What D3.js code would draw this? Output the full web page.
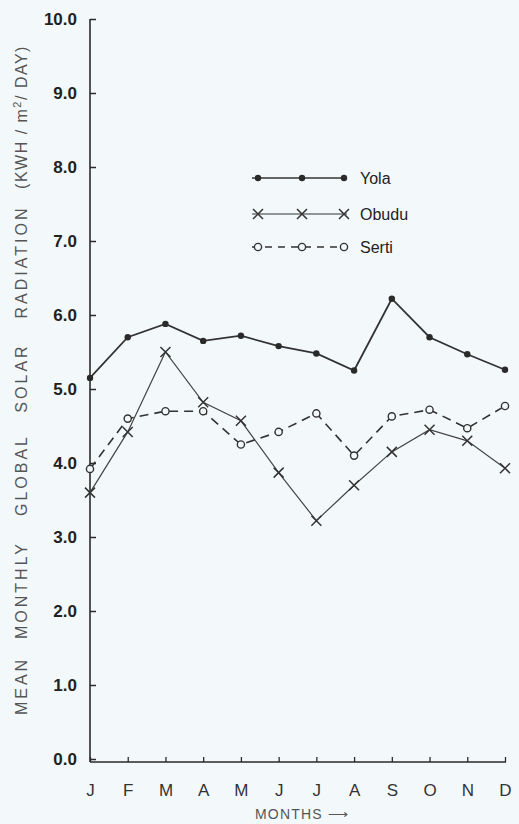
<!DOCTYPE html>
<html>
<head>
<meta charset="utf-8">
<script src="https://cdn.jsdelivr.net/npm/d3@7/dist/d3.min.js"></script>
<style>
  html, body { margin: 0; padding: 0; background: #f3f9fb; }
  svg { display: block; }
</style>
</head>
<body>
<svg id="chart" width="519" height="824"></svg>
<script>
const months = ["J","F","M","A","M","J","J","A","S","O","N","D"];
const yola  = [5.15, 5.70, 5.88, 5.65, 5.72, 5.58, 5.48, 5.25, 6.22, 5.70, 5.47, 5.26];
const obudu = [3.60, 4.42, 5.50, 4.82, 4.57, 3.87, 3.22, 3.70, 4.15, 4.45, 4.30, 3.93];
const serti = [3.92, 4.60, 4.70, 4.70, 4.25, 4.42, 4.67, 4.10, 4.63, 4.72, 4.47, 4.77];
const yTicks = [0,1,2,3,4,5,6,7,8,9,10];
const seriesNames = ["Yola","Obudu","Serti"];
const yTitleWords = ["MEAN","MONTHLY","GLOBAL","SOLAR","RADIATION","(KWH / m2/ DAY)"];

const svg = d3.select("#chart");
const ink = "#2a2a2a";

const x = d3.scaleLinear().domain([0, 11]).range([90, 505]);
const y = d3.scaleLinear().domain([0, 10]).range([759, 19]);

// axes
const yAxis = d3.axisLeft(y).tickValues(yTicks).tickSize(-6).tickFormat(d => d.toFixed(1)).tickPadding(13);
const gy = svg.append("g").attr("transform", "translate(90,0)").call(yAxis);
gy.select(".domain").attr("stroke", ink).attr("stroke-width", 1.6).attr("d", `M0,${y(10)}V${y(0)+3}`);
gy.selectAll(".tick line").attr("stroke", ink).attr("stroke-width", 1.5);
gy.selectAll(".tick text").attr("fill", "#222").attr("font-family", "Liberation Sans, Arial, sans-serif")
  .attr("font-size", 17).attr("font-weight", "bold").attr("dy", "0.35em");

const xAxis = d3.axisBottom(x).tickValues(d3.range(12)).tickSize(-5).tickFormat(i => months[i]).tickPadding(22);
const gx = svg.append("g").attr("transform", `translate(0,${y(0)+3})`).call(xAxis);
gx.select(".domain").attr("stroke", ink).attr("stroke-width", 1.6).attr("d", `M90,0H506`);
gx.selectAll(".tick line").attr("stroke", ink).attr("stroke-width", 1.3);
gx.selectAll(".tick text").attr("fill", "#333").attr("font-family", "Liberation Sans, Arial, sans-serif")
  .attr("font-size", 17);

svg.append("text").attr("x", 255).attr("y", 819)
  .attr("font-family", "Liberation Sans, Arial, sans-serif").attr("font-size", 14)
  .attr("fill", "#555").attr("letter-spacing", 1.2)
  .text("MONTHS \u27F6");

// y title words
const titleCenters = [686, 590, 475, 378, 262, 117];
yTitleWords.forEach((w, i) => {
  const t = svg.append("text")
    .attr("transform", `translate(27,${titleCenters[i]}) rotate(-90)`)
    .attr("text-anchor", "middle")
    .attr("font-family", "Liberation Sans, Arial, sans-serif")
    .attr("font-size", 16).attr("fill", "#555").attr("letter-spacing", 3);
  if (w.indexOf("m2") >= 0) {
    t.attr("letter-spacing", 1.5);
    t.append("tspan").text("(KWH / m");
    t.append("tspan").attr("dy", -6).attr("font-size", 11).text("2");
    t.append("tspan").attr("dy", 6).text("/ DAY)");
  } else {
    t.text(w);
  }
});

// lines
const line = d3.line().x((d, i) => x(i)).y(d => y(d));

svg.append("path").datum(yola).attr("d", line).attr("fill", "none")
  .attr("stroke", "#333").attr("stroke-width", 1.8);
svg.append("path").datum(obudu).attr("d", line).attr("fill", "none")
  .attr("stroke", "#444").attr("stroke-width", 1.2);
svg.append("path").datum(serti).attr("d", line).attr("fill", "none")
  .attr("stroke", "#333").attr("stroke-width", 1.6).attr("stroke-dasharray", "9,6");

function dot(g, cx, cy) {
  g.append("circle").attr("cx", cx).attr("cy", cy).attr("r", 3.2).attr("fill", "#2a2a2a");
}
function cross(g, cx, cy) {
  const s = 5;
  g.append("path").attr("d", `M${cx-s},${cy-s}L${cx+s},${cy+s}M${cx-s},${cy+s}L${cx+s},${cy-s}`)
    .attr("stroke", "#333").attr("stroke-width", 1.5).attr("fill", "none");
}
function ring(g, cx, cy) {
  g.append("circle").attr("cx", cx).attr("cy", cy).attr("r", 3.6)
    .attr("fill", "#f3f9fb").attr("stroke", "#333").attr("stroke-width", 1.4);
}

const gm = svg.append("g");
yola.forEach((v, i) => dot(gm, x(i), y(v)));
obudu.forEach((v, i) => cross(gm, x(i), y(v)));
serti.forEach((v, i) => ring(gm, x(i), y(v)));

// legend
const legY = [178, 214, 247];
const lg = svg.append("g");
const markerFns = [dot, cross, ring];
seriesNames.forEach((n, i) => {
  const p = lg.append("line").attr("x1", 252).attr("x2", 347).attr("y1", legY[i]).attr("y2", legY[i])
    .attr("stroke", "#333").attr("stroke-width", i === 1 ? 1.2 : 1.6);
  if (i === 2) p.attr("stroke-dasharray", "7,6");
  [258, 302, 344].forEach(mx => markerFns[i](lg, mx, legY[i]));
  lg.append("text").attr("x", 360).attr("y", legY[i]).attr("dy", "0.35em")
    .attr("font-family", "Liberation Sans, Arial, sans-serif").attr("font-size", 16)
    .attr("fill", "#222").text(n);
});
</script>
</body>
</html>
